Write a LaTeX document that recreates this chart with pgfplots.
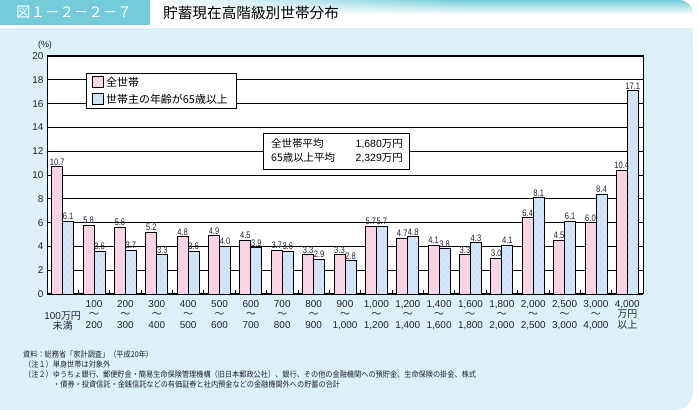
\documentclass[border=0pt]{standalone}
\usepackage{pgfplots}
\pgfplotsset{compat=1.18}
\usepackage{fontspec}
\setmainfont{Liberation Sans}
\newfontfamily\numc[FakeStretch=0.8]{Liberation Sans}
\newfontfamily\jp{Noto Sans CJK JP}
\newfontfamily\jpnote[FakeStretch=0.9]{Noto Sans CJK JP}
\usetikzlibrary{patterns.meta,fadings}
\definecolor{bgblue}{HTML}{DDF0F6}
\definecolor{hdrteal}{HTML}{74CCDB}
\definecolor{pinkc}{HTML}{F9D4E4}
\definecolor{bluec}{HTML}{D4E5F7}
\definecolor{dotc}{HTML}{9FC2E6}
\definecolor{txt}{HTML}{222233}
\tikzfading[name=fadeR, left color=transparent!0, right color=transparent!100]
\tikzdeclarepattern{
  name=sparsedots,
  type=uncolored,
  bottom left={(-.1pt,-.1pt)},
  top right={(5.6bp,8.1bp)},
  tile size={(5.5bp,8bp)},
  code={
    \fill (1.4bp,2bp) circle (0.45bp);
    \fill (4.1bp,6bp) circle (0.45bp);
  }
}
\pgfplotstableread{
x all old
0 10.7 6.1
1 5.8 3.6
2 5.6 3.7
3 5.2 3.3
4 4.8 3.6
5 4.9 4.0
6 4.5 3.9
7 3.7 3.6
8 3.3 2.9
9 3.3 2.8
10 5.7 5.7
11 4.7 4.8
12 4.1 3.8
13 3.3 4.3
14 3.0 4.1
15 6.4 8.1
16 4.5 6.1
17 6.0 8.4
18 10.4 17.1
}\datatable
\begin{document}
\begin{tikzpicture}
\useasboundingbox (0,0) rectangle (698bp,410bp);
\fill[white] (0,0) rectangle (698bp,410bp);
% body background
\fill[bgblue, rounded corners=18bp] (0,0) rectangle (693bp,382bp);
\fill[bgblue] (0,0) rectangle (30bp,30bp);
\fill[bgblue] (0,352bp) rectangle (30bp,382bp);
\fill[bgblue] (663bp,352bp) rectangle (693bp,382bp);
% header
\begin{scope}
\clip[rounded corners=14bp] (100bp,385bp) rectangle (693bp,410bp);
\shade[top color=hdrteal, bottom color=white] (100bp,396bp) rectangle (693bp,410bp);
\end{scope}
\fill[white, path fading=fadeR] (150bp,385bp) rectangle (470bp,410bp);
\fill[hdrteal] (0,385bp) rectangle (150bp,410bp);
\node[white, font=\jp\fontsize{14.5}{14.5}\selectfont, anchor=west, inner sep=0] at (16bp,397.5bp) {図１－２－２－７};
\node[black, font=\jp\fontsize{14.7}{14.7}\selectfont, anchor=west, inner sep=0] at (163bp,397.5bp) {貯蓄現在高階級別世帯分布};

\begin{axis}[
  at={(47bp,116bp)}, anchor=south west,
  scale only axis, width=596bp, height=238bp,
  xmin=-0.5, xmax=18.5, ymin=0, ymax=20,
  ytick={0,2,...,20},
  ymajorgrids, grid style={black, line width=0.8bp},
  axis line style={black, line width=1bp},
  axis background/.style={fill=white},
  tick pos=left,
  ybar=0pt, bar width=11bp,
  /pgf/number format/assume math mode=true,
  yticklabel style={font=\fontsize{10}{12}\selectfont, text=txt},
  major tick length=4bp, tick align=inside,
  tick style={black, line width=0.8bp},
  xtick={0.5,1.5,...,17.5}, xticklabels={},
  extra x ticks={0,...,18},
  extra x tick style={major tick length=0pt, tick style={draw=none}},
  xticklabel style={align=center, font=\fontsize{10}{10.5}\selectfont, text=txt, inner sep=2bp, yshift=-4bp},
  extra x tick labels={
    {\strut\\100{\jp 万円}\\{\jp 未満}},
    {100\\{\jp ～}\\200},
    {200\\{\jp ～}\\300},
    {300\\{\jp ～}\\400},
    {400\\{\jp ～}\\500},
    {500\\{\jp ～}\\600},
    {600\\{\jp ～}\\700},
    {700\\{\jp ～}\\800},
    {800\\{\jp ～}\\900},
    {900\\{\jp ～}\\1,000},
    {1,000\\{\jp ～}\\1,200},
    {1,200\\{\jp ～}\\1,400},
    {1,400\\{\jp ～}\\1,600},
    {1,600\\{\jp ～}\\1,800},
    {1,800\\{\jp ～}\\2,000},
    {2,000\\{\jp ～}\\2,500},
    {2,500\\{\jp ～}\\3,000},
    {3,000\\{\jp ～}\\4,000},
    {4,000\\{\jp 万円}\\{\jp 以上}}
  },
  nodes near coords={\pgfmathprintnumber[fixed,fixed zerofill,precision=1]{\pgfplotspointmeta}},
  every node near coord/.append style={font=\numc\fontsize{9.5}{9.5}\selectfont, inner sep=1bp, text=txt},
  legend style={at={(axis description cs:0.0654,0.9286)}, anchor=north west,
    draw=black, line width=0.8bp, fill=white,
    font=\jp\fontsize{11}{13}\selectfont, text=black,
    inner xsep=6bp, inner ysep=2bp, row sep=2bp},
  legend cell align=left,
]
\addplot[fill=pinkc, draw=black, line width=0.8bp,
  legend image code/.code={\draw[fill=pinkc, draw=black, line width=0.8bp] (0bp,-5bp) rectangle (11bp,6bp);}]
  table[x=x, y=all] {\datatable};
\addlegendentry{全世帯}
\addplot[fill=bluec, draw=black, line width=0.8bp, postaction={pattern=sparsedots, pattern color=dotc},
  legend image code/.code={\draw[fill=bluec, draw=black, line width=0.8bp, postaction={pattern=sparsedots, pattern color=dotc}] (0bp,-5bp) rectangle (11bp,6bp);}]
  table[x=x, y=old] {\datatable};
\addlegendentry{世帯主の年齢が65歳以上}
\end{axis}

% average box
\draw[black, line width=0.8bp, fill=white] (263bp,241bp) rectangle (409bp,277bp);
\node[anchor=west, inner sep=0, font=\jp\fontsize{10.5}{12}\selectfont] at (271bp,266bp) {全世帯平均};
\node[anchor=west, inner sep=0, font=\jp\fontsize{10.5}{12}\selectfont] at (271bp,252bp) {65歳以上平均};
\node[anchor=east, inner sep=0, font=\fontsize{10.5}{12}\selectfont] at (403bp,266bp) {1,680{\jp 万円}};
\node[anchor=east, inner sep=0, font=\fontsize{10.5}{12}\selectfont] at (403bp,252bp) {2,329{\jp 万円}};
% (%)
\node[font=\fontsize{9}{10}\selectfont, text=txt, inner sep=0] at (45bp,365bp) {(\%)};
% notes
\begin{scope}[every node/.style={anchor=base west, inner sep=0, font=\jpnote\fontsize{8}{9}\selectfont, text=txt}]
\node at (23bp,52bp) {資料：総務省「家計調査」（平成20年）};
\node at (24bp,42bp) {（注１）単身世帯は対象外};
\node at (24bp,33bp) {（注２）ゆうちょ銀行、郵便貯金・簡易生命保険管理機構（旧日本郵政公社）、銀行、その他の金融機関への預貯金、生命保険の掛金、株式};
\node at (53bp,23bp) {・債券・投資信託・金銭信託などの有価証券と社内預金などの金融機関外への貯蓄の合計};
\end{scope}
\end{tikzpicture}
\end{document}
